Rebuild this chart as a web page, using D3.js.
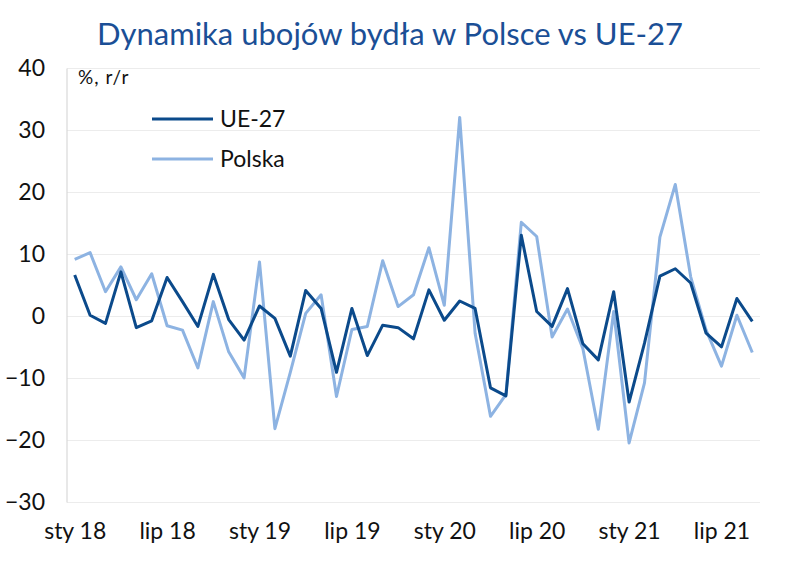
<!DOCTYPE html>
<html><head><meta charset="utf-8">
<script src="https://cdn.jsdelivr.net/npm/d3@7"></script>
<style>body{margin:0;background:#fff;}svg{display:block;font-family:Lato,"Noto Sans",sans-serif;}</style>
</head><body><svg id="c" width="800" height="562"></svg>
<script>
const months = ["sty","lut","mar","kwi","maj","cze","lip","sie","wrz","paź","lis","gru"];
const categories = [];
for (let y = 18; y <= 21; y++) for (let m = 0; m < 12; m++) { if (y === 21 && m > 8) break; categories.push(months[m] + " " + y); }
const ue27 = [6.7,0.2,-1.1,7.2,-1.8,-0.7,6.3,2.4,-1.6,6.8,-0.5,-3.8,
  1.7,-0.3,-6.4,4.2,1.3,-9.0,1.3,-6.3,-1.4,-1.8,-3.6,4.3,
  -0.6,2.5,1.3,-11.5,-12.8,13.1,0.8,-1.6,4.5,-4.4,-7.0,4.0,
  -13.8,-4.3,6.5,7.7,5.4,-2.7,-4.9,2.9,-0.8];
const polska = [9.2,10.3,4.0,8.0,2.7,6.9,-1.5,-2.2,-8.3,2.4,-5.7,-9.9,
  8.8,-18.1,-9.0,0.5,3.5,-12.9,-2.1,-1.6,9.0,1.6,3.5,11.1,
  1.8,32.1,-2.7,-16.1,-12.6,15.2,12.9,-3.3,1.2,-5.2,-18.2,0.8,
  -20.4,-10.7,12.8,21.3,6.4,-2.2,-8.0,0.2,-5.8];
const yTicks = [40,30,20,10,0,-10,-20,-30];
const xLabels = ["sty 18","lip 18","sty 19","lip 19","sty 20","lip 20","sty 21","lip 21"];
const seriesNames = ["UE-27","Polska"];
const colors = ["#0b4a8b","#8db3e2"];

const svg = d3.select("#c");
const L = 67, R = 760, T = 68.5, B = 502.5;
const x = d3.scalePoint().domain(categories).range([L, R]).padding(0.5);
const y = d3.scaleLinear().domain([-30, 40]).range([B, T]);

svg.append("text").attr("x", 390).attr("y", 45).attr("text-anchor", "middle")
  .attr("font-size", 31).attr("fill", "#1b4f96").text("Dynamika ubojów bydła w Polsce vs UE-27");

// gridlines
svg.append("g").selectAll("line").data(yTicks).join("line")
  .attr("x1", L).attr("x2", R).attr("y1", d => y(d)).attr("y2", d => y(d))
  .attr("stroke", "#ececec").attr("stroke-width", 1);
svg.append("line").attr("x1", L).attr("x2", L).attr("y1", T).attr("y2", B)
  .attr("stroke", "#d9d9d9").attr("stroke-width", 1.2);

// y axis labels
const yAxis = d3.axisLeft(y).tickValues(yTicks).tickSize(0).tickPadding(0).tickFormat(d3.format("d"));
const ya = svg.append("g").attr("transform", `translate(45,0)`).call(yAxis);
ya.select(".domain").remove();
ya.selectAll("text").attr("font-size", 23).attr("fill", "#111").attr("font-family", "Lato,'Noto Sans',sans-serif");

// x axis labels
const xAxis = d3.axisBottom(x).tickValues(xLabels).tickSize(0).tickPadding(0);
const xa = svg.append("g").attr("transform", `translate(0,523)`).call(xAxis);
xa.select(".domain").remove();
xa.selectAll("text").attr("font-size", 23).attr("fill", "#111").attr("font-family", "Lato,'Noto Sans',sans-serif");

svg.append("text").attr("x", 78).attr("y", 84).attr("font-size", 19).attr("letter-spacing", 1).attr("fill", "#111").text("%, r/r");

const line = d3.line().x((d, i) => x(categories[i])).y(d => y(d));
[polska, ue27].forEach((s, k) => {
  const ci = k === 0 ? 1 : 0;
  svg.append("path").datum(s).attr("d", line).attr("fill", "none")
    .attr("stroke", colors[ci]).attr("stroke-width", 3).attr("stroke-linejoin", "round");
});

// legend
seriesNames.forEach((n, i) => {
  const ly = 119 + i * 40;
  svg.append("line").attr("x1", 152).attr("x2", 213).attr("y1", ly).attr("y2", ly)
    .attr("stroke", colors[i]).attr("stroke-width", 3);
  svg.append("text").attr("x", 220).attr("y", ly + 8).attr("font-size", 23).attr("fill", "#111").text(n);
});
</script></body></html>
